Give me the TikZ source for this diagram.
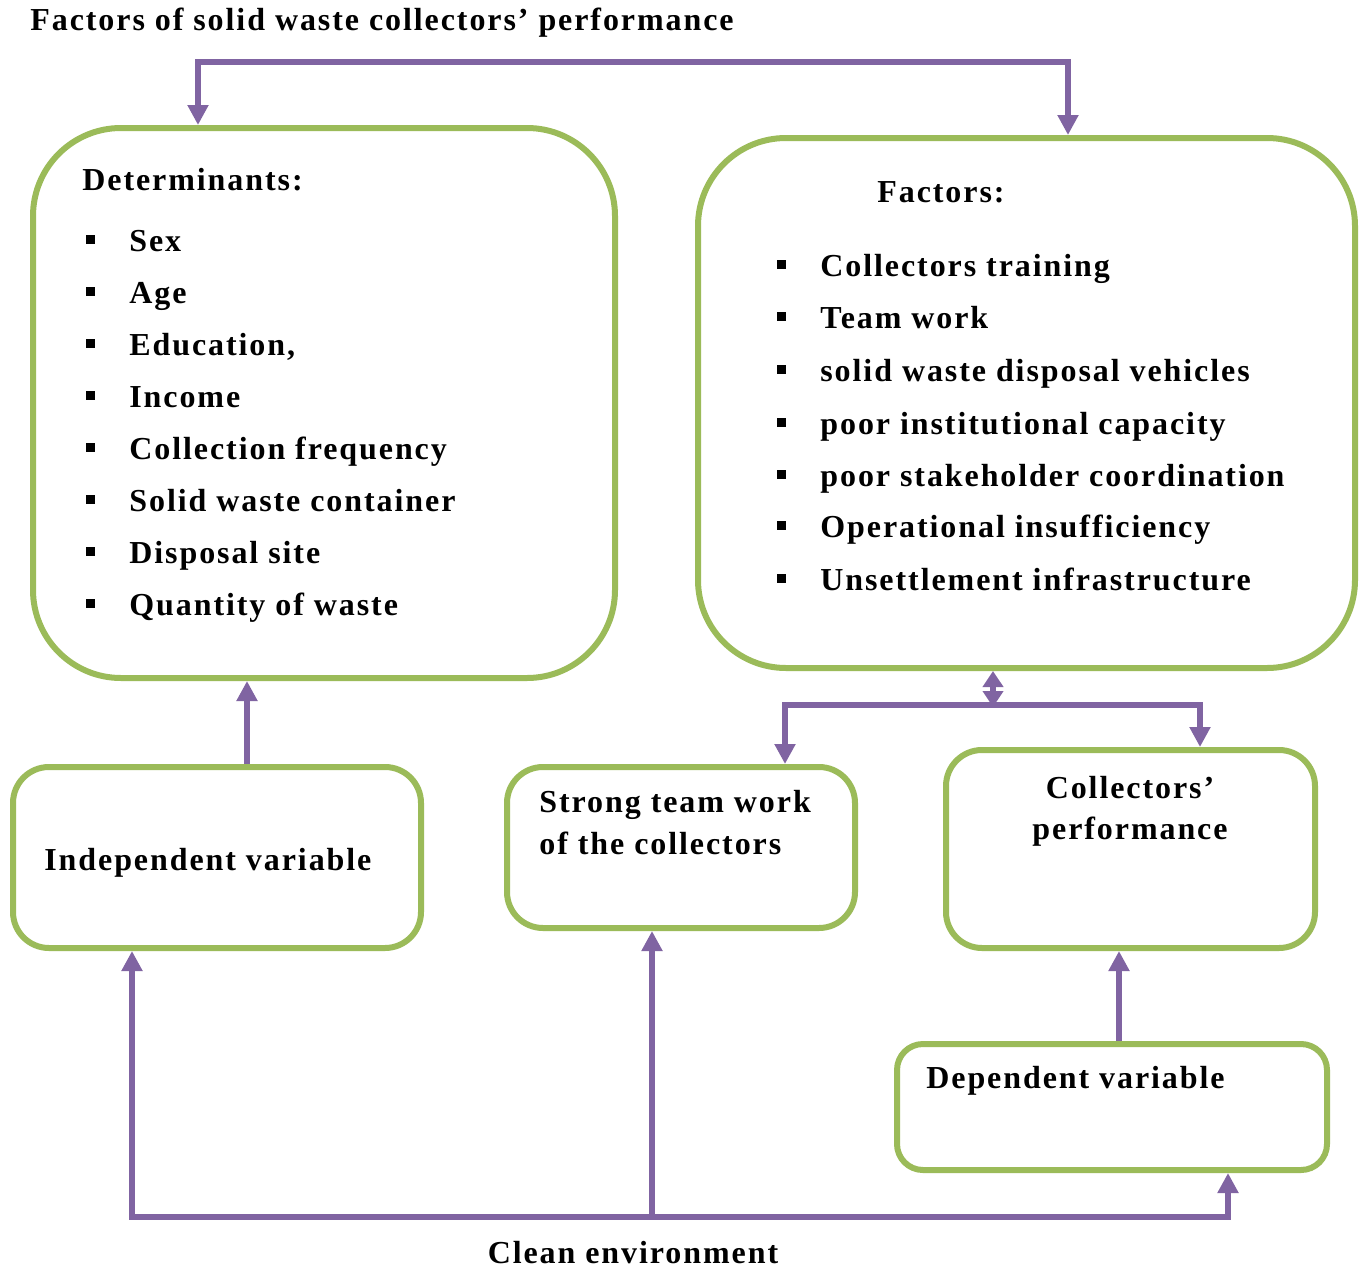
\documentclass[tikz,border=0pt]{standalone}
\usepackage{fontspec}
\setmainfont{Liberation Serif}[LetterSpace=6]
\usetikzlibrary{arrows.meta}
\definecolor{boxgreen}{HTML}{9BBB59}
\definecolor{linepurple}{HTML}{8064A2}
\begin{document}
\begin{tikzpicture}[x=0.5pt,y=-0.5pt,
  bigbox/.style={draw=boxgreen,line width=3pt,rounded corners=44pt,inner sep=0pt},
  smallbox/.style={draw=boxgreen,line width=3pt,rounded corners=18pt,inner sep=0pt},
  txt/.style={font=\fontsize{16}{19}\selectfont\bfseries,inner sep=0pt,anchor=base west},
  bulletsq/.style={fill=black,minimum size=4.5pt,inner sep=0pt},
  conn/.style={draw=linepurple,line width=2.8pt,line join=miter},
  tip/.style={-{Triangle[width=10pt,length=10pt]}},
  tips/.style={{Triangle[width=10pt,length=10pt]}-{Triangle[width=10pt,length=10pt]}},
  shorttips/.style={{Triangle[width=10pt,length=8pt]}-{Triangle[width=10pt,length=8pt]}}]
\useasboundingbox (0,0) rectangle (1365,1269);

% boxes
\node[bigbox,minimum width=291pt,minimum height=275pt] (det) at (324,403) {};
\node[bigbox,minimum width=328.5pt,minimum height=265pt] (fac) at (1026.5,403) {};
\node[smallbox,minimum width=204pt,minimum height=90.5pt] (ind) at (217,857.5) {};
\node[smallbox,minimum width=174pt,minimum height=80.5pt] (str) at (681,847.5) {};
\node[smallbox,minimum width=184.5pt,minimum height=99pt] (col) at (1130.5,849) {};
\node[smallbox,rounded corners=13pt,minimum width=215pt,minimum height=63pt] (dep) at (1112,1107) {};

% texts
\node[txt] (title) at (30,31) {Factors of solid waste collectors’ performance};
\node[txt] (dethead) at (82,190) {Determinants:};
\foreach \t [count=\i] in {Sex,Age,{Education,},Income,Collection frequency,Solid waste container,Disposal site,Quantity of waste}{
  \node[txt] (d\i) at (129,{241+52*(\i-1)+10}) {\t};
  \node[bulletsq] (db\i) at (90,{241+52*(\i-1)-2}) {};
}
\node[txt] (fachead) at (877,202) {Factors:};
\foreach \t/\y [count=\i] in {Collectors training/266,Team work/318,solid waste disposal vehicles/371,poor institutional capacity/424,poor stakeholder coordination/476,Operational insufficiency/527,Unsettlement infrastructure/580}{
  \node[txt] (f\i) at (820,\y+10) {\t};
  \node[bulletsq] (fb\i) at (781,\y-2) {};
}
\node[txt] (indt) at (44,870) {Independent variable};
\node[txt] (strt1) at (539,812) {Strong team work};
\node[txt] (strt2) at (539,854) {of the collectors};
\node[txt,anchor=base] (colt1) at (1130,798) {Collectors’};
\node[txt,anchor=base] (colt2) at (1130,839) {performance};
\node[txt] (dept) at (926,1088) {Dependent variable};
\node[txt,anchor=base] (clean) at (633,1263) {Clean environment};

% connectors
\coordinate (tl) at (198,62);
\coordinate (tr) at (1068,62);
\draw[conn,tips] (tl |- det.north) -- (tl) -- (tr) -- (tr |- fac.north);

\coordinate (xa) at (247,0);
\draw[conn,tip] (ind.north -| xa) -- (det.south -| xa);

\coordinate (m) at (993,707);
\coordinate (ml) at (785,705);
\coordinate (mr) at (1200,705);
\draw[conn,shorttips] (m) -- (m |- fac.south);
\draw[conn,tip] (m |- ml) -- (ml) -- (ml |- str.north);
\draw[conn,tip] (m |- mr) -- (mr) -- (mr |- col.north);

\coordinate (xc) at (1119,0);
\draw[conn,tip] (dep.north -| xc) -- (col.south -| xc);

\coordinate (b1) at (132,1217);
\coordinate (b2) at (652,1217);
\coordinate (b3) at (1228,1217);
\draw[conn,tip] (b2) -- (b1) -- (b1 |- ind.south);
\draw[conn,tip] (b1) -- (b2) -- (b2 |- str.south);
\draw[conn,tip] (b2) -- (b3) -- (b3 |- dep.south);
\end{tikzpicture}
\end{document}
